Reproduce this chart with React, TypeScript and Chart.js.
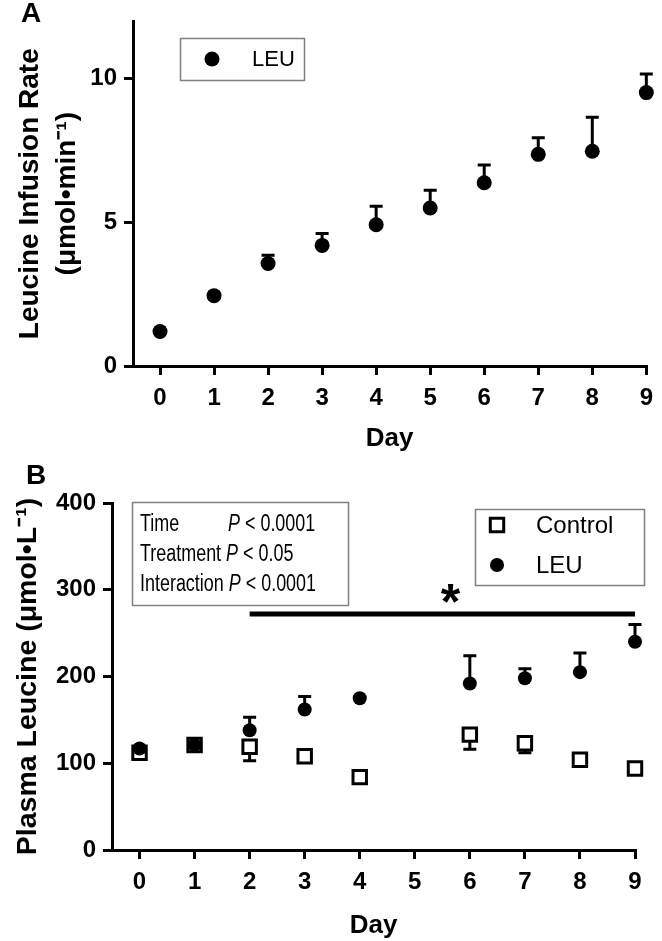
import React, { useEffect, useRef } from 'react';
import { Chart, registerables } from 'chart.js';

Chart.register(...registerables);

const FONT = "'Liberation Sans', Arial, Helvetica, sans-serif";

// ---------- Data ----------
const days = [0, 1, 2, 3, 4, 5, 6, 7, 8, 9];

// Panel A: leucine infusion rate (µmol/min)
const infusionLeu = [1.2, 2.45, 3.57, 4.2, 4.92, 5.5, 6.38, 7.37, 7.48, 9.52];
const infusionLeuErr = [0, 0, 0.29, 0.41, 0.64, 0.62, 0.62, 0.58, 1.18, 0.65];
const infusionTicks = [0, 5, 10];

// Panel B: plasma leucine (µmol/L)
const plasmaControl = [112, 121, 119, 108, 84, null, 133, 123, 104, 94];
const plasmaControlErr = [3, 4, 16, 4, 2, null, 17, 11, 3, 3];
const plasmaLeu = [117, 121, 138, 162, 175, null, 192, 198, 205, 240];
const plasmaLeuErr = [2, 4, 15, 15, 2, null, 32, 11, 22, 20];
const plasmaTicks = [0, 100, 200, 300, 400];

// Significance annotation
const sigStartDay = 2;
const sigEndDay = 9;
const sigLevel = 272;
const starDay = 5.65;
const starLevel = 297;

const statsLines = [
  ['Time', 'P', ' < 0.0001'],
  ['Treatment ', 'P', ' < 0.05'],
  ['Interaction ', 'P', ' < 0.0001'],
];

const OFF_B = 460; // page y of canvas B

// ---------- Plugins ----------
const errorBarPlugin = {
  id: 'errorBars',
  beforeDatasetsDraw(chart: any) {
    const { ctx } = chart;
    const xs = chart.scales.x;
    const ys = chart.scales.y;
    ctx.save();
    ctx.strokeStyle = '#000';
    ctx.lineWidth = 3;
    chart.data.datasets.forEach((ds: any) => {
      if (!ds.errors) return;
      ds.data.forEach((pt: any, i: number) => {
        const e = ds.errors[i];
        if (pt.y == null || !e) return;
        const px = xs.getPixelForValue(pt.x);
        const py = ys.getPixelForValue(pt.y);
        const ey = ys.getPixelForValue(pt.y + ds.errDir * e);
        ctx.beginPath();
        ctx.moveTo(px, py);
        ctx.lineTo(px, ey);
        ctx.moveTo(px - 6.5, ey);
        ctx.lineTo(px + 6.5, ey);
        ctx.stroke();
      });
    });
    ctx.restore();
  },
};

function drawPanelLetter(ctx: any, letter: string, x: number, y: number) {
  ctx.save();
  ctx.fillStyle = '#000';
  ctx.font = `bold 28px ${FONT}`;
  ctx.textAlign = 'center';
  ctx.textBaseline = 'middle';
  ctx.fillText(letter, x, y);
  ctx.restore();
}

function drawMarker(ctx: any, ds: any, x: number, y: number) {
  ctx.save();
  if (ds.pointStyle === 'rect') {
    const s = ds.pointRadius * Math.SQRT1_2;
    ctx.fillStyle = ds.backgroundColor;
    ctx.strokeStyle = ds.borderColor;
    ctx.lineWidth = ds.borderWidth;
    ctx.beginPath();
    ctx.rect(x - s, y - s, 2 * s, 2 * s);
    ctx.fill();
    ctx.stroke();
  } else {
    ctx.fillStyle = ds.backgroundColor;
    ctx.beginPath();
    ctx.arc(x, y, ds.pointRadius, 0, Math.PI * 2);
    ctx.fill();
  }
  ctx.restore();
}

const panelAPlugin = {
  id: 'panelA',
  afterDraw(chart: any) {
    const { ctx } = chart;
    drawPanelLetter(ctx, 'A', 31, 14);
    ctx.save();
    ctx.strokeStyle = '#808080';
    ctx.lineWidth = 1.5;
    ctx.strokeRect(180.5, 38.5, 124, 42);
    const ds = chart.data.datasets[0];
    drawMarker(ctx, ds, 212, 59);
    ctx.fillStyle = '#000';
    ctx.font = `22px ${FONT}`;
    ctx.textBaseline = 'middle';
    ctx.fillText(ds.label, 252, 60);
    ctx.restore();
  },
};

const panelBPlugin = {
  id: 'panelB',
  afterDatasetsDraw(chart: any) {
    const { ctx } = chart;
    const xs = chart.scales.x;
    const ys = chart.scales.y;
    ctx.save();
    // significance bar
    ctx.strokeStyle = '#000';
    ctx.lineWidth = 5;
    ctx.beginPath();
    const yy = ys.getPixelForValue(sigLevel);
    ctx.moveTo(xs.getPixelForValue(sigStartDay), yy);
    ctx.lineTo(xs.getPixelForValue(sigEndDay), yy);
    ctx.stroke();
    // asterisk
    ctx.fillStyle = '#000';
    ctx.font = `bold 50px ${FONT}`;
    ctx.textAlign = 'center';
    ctx.textBaseline = 'alphabetic';
    ctx.fillText('*', xs.getPixelForValue(starDay), ys.getPixelForValue(starLevel) + 27);
    ctx.restore();
  },
  afterDraw(chart: any) {
    const { ctx } = chart;
    drawPanelLetter(ctx, 'B', 36, 476 - OFF_B);

    // stats box
    ctx.save();
    ctx.strokeStyle = '#808080';
    ctx.lineWidth = 1.5;
    ctx.strokeRect(132.5, 502.5 - OFF_B, 216, 103);
    ctx.fillStyle = '#000';
    ctx.textBaseline = 'middle';
    statsLines.forEach(([label, p, rest], i) => {
      const y = 525 - OFF_B + i * 30;
      ctx.save();
      ctx.translate(140, y);
      ctx.scale(0.78, 1);
      ctx.font = `23px ${FONT}`;
      ctx.fillText(label, 0, 0);
      let x = i === 0 ? (228 - 140) / 0.78 : ctx.measureText(label).width;
      ctx.font = `italic 23px ${FONT}`;
      ctx.fillText(p, x, 0);
      x += ctx.measureText(p).width;
      ctx.font = `23px ${FONT}`;
      ctx.fillText(rest, x, 0);
      ctx.restore();
    });
    ctx.restore();

    // legend box
    ctx.save();
    ctx.strokeStyle = '#808080';
    ctx.lineWidth = 1.5;
    ctx.strokeRect(475.5, 509.5 - OFF_B, 169, 76);
    const dsC = chart.data.datasets[1];
    const dsL = chart.data.datasets[0];
    drawMarker(ctx, dsC, 497, 525 - OFF_B);
    drawMarker(ctx, dsL, 497, 565 - OFF_B);
    ctx.fillStyle = '#000';
    ctx.font = `24px ${FONT}`;
    ctx.textBaseline = 'middle';
    ctx.fillText(dsC.label, 536, 526 - OFF_B);
    ctx.fillText(dsL.label, 536, 566 - OFF_B);
    ctx.restore();
  },
};

// ---------- Shared axis styles ----------
const gridStyle = {
  display: true,
  drawOnChartArea: false,
  drawTicks: true,
  tickLength: 9,
  color: '#000',
  lineWidth: 3,
};
const borderStyle = { display: true, color: '#000', width: 3 };
const tickFont = { family: FONT, size: 24, weight: 'bold' as const };
const titleFont = { family: FONT, size: 26, weight: 'bold' as const };

function xAxis(height: number, titlePadBottom: number) {
  return {
    type: 'linear' as const,
    min: -0.5,
    max: 9,
    afterBuildTicks: (a: any) => {
      a.ticks = days.map((v) => ({ value: v }));
    },
    afterFit: (a: any) => {
      a.height = height;
    },
    grid: gridStyle,
    border: borderStyle,
    ticks: { font: tickFont, color: '#000', padding: 9, maxRotation: 0 },
    title: {
      display: true,
      text: 'Day',
      color: '#000',
      font: titleFont,
      padding: { top: 0, bottom: titlePadBottom },
    },
  };
}

function configA(): any {
  return {
    type: 'scatter',
    data: {
      datasets: [
        {
          label: 'LEU',
          data: days.map((d, i) => ({ x: d, y: infusionLeu[i] })),
          errors: infusionLeuErr,
          errDir: 1,
          pointStyle: 'circle',
          pointRadius: 7.5,
          pointHoverRadius: 7.5,
          backgroundColor: '#000',
          borderColor: '#000',
          borderWidth: 0,
          clip: false,
        },
      ],
    },
    options: {
      animation: false,
      responsive: false,
      events: [],
      layout: { padding: { top: 17, right: 9, left: 0, bottom: 0 } },
      plugins: { legend: { display: false }, tooltip: { enabled: false } },
      scales: {
        x: xAxis(104, 16),
        y: {
          min: 0,
          max: 12,
          afterBuildTicks: (a: any) => {
            a.ticks = infusionTicks.map((v) => ({ value: v }));
          },
          afterFit: (a: any) => {
            a.width = 133;
          },
          grid: gridStyle,
          border: borderStyle,
          ticks: { font: tickFont, color: '#000', padding: 7 },
          title: {
            display: true,
            text: ['Leucine Infusion Rate', '(\u03bcmol\u2022min\u207b\u00b9)'],
            color: '#000',
            font: { ...titleFont, size: 28, lineHeight: 1.35 },
            padding: { top: 11, bottom: 0 },
          },
        },
      },
    },
    plugins: [errorBarPlugin, panelAPlugin],
  };
}

function configB(): any {
  return {
    type: 'scatter',
    data: {
      datasets: [
        {
          label: 'LEU',
          data: days.map((d, i) => ({ x: d, y: plasmaLeu[i] })),
          errors: plasmaLeuErr,
          errDir: 1,
          pointStyle: 'circle',
          pointRadius: 7,
          pointHoverRadius: 7,
          backgroundColor: '#000',
          borderColor: '#000',
          borderWidth: 0,
          clip: false,
          order: 0,
        },
        {
          label: 'Control',
          data: days.map((d, i) => ({ x: d, y: plasmaControl[i] })),
          errors: plasmaControlErr,
          errDir: -1,
          pointStyle: 'rect',
          pointRadius: 9.5,
          pointHoverRadius: 9.5,
          backgroundColor: '#fff',
          borderColor: '#000',
          borderWidth: 3,
          clip: false,
          order: 1,
        },
      ],
    },
    options: {
      animation: false,
      responsive: false,
      events: [],
      layout: { padding: { top: 503 - OFF_B, right: 27, left: 0, bottom: 0 } },
      plugins: { legend: { display: false }, tooltip: { enabled: false } },
      scales: {
        x: xAxis(481 - (850 - OFF_B), 0),
        y: {
          min: 0,
          max: 400,
          afterBuildTicks: (a: any) => {
            a.ticks = plasmaTicks.map((v) => ({ value: v }));
          },
          afterFit: (a: any) => {
            a.width = 112;
          },
          grid: gridStyle,
          border: borderStyle,
          ticks: { font: tickFont, color: '#000', padding: 7 },
          title: {
            display: true,
            text: 'Plasma Leucine (\u03bcmol\u2022L\u207b\u00b9)',
            color: '#000',
            font: { ...titleFont, size: 28.5 },
            padding: { top: 11, bottom: 0 },
          },
        },
      },
    },
    plugins: [errorBarPlugin, panelBPlugin],
  };
}

export default function App() {
  const refA = useRef<HTMLCanvasElement>(null);
  const refB = useRef<HTMLCanvasElement>(null);

  useEffect(() => {
    const a = new Chart(refA.current as HTMLCanvasElement, configA());
    const b = new Chart(refB.current as HTMLCanvasElement, configB());
    return () => {
      a.destroy();
      b.destroy();
    };
  }, []);

  return (
    <div
      style={{
        position: 'absolute',
        left: 0,
        top: 0,
        width: 662,
        height: 941,
        background: '#fff',
      }}
    >
      <canvas
        ref={refA}
        width={662}
        height={470}
        style={{ position: 'absolute', left: 0, top: 0, width: 662, height: 470 }}
      />
      <canvas
        ref={refB}
        width={662}
        height={481}
        style={{ position: 'absolute', left: 0, top: OFF_B, width: 662, height: 481 }}
      />
    </div>
  );
}
